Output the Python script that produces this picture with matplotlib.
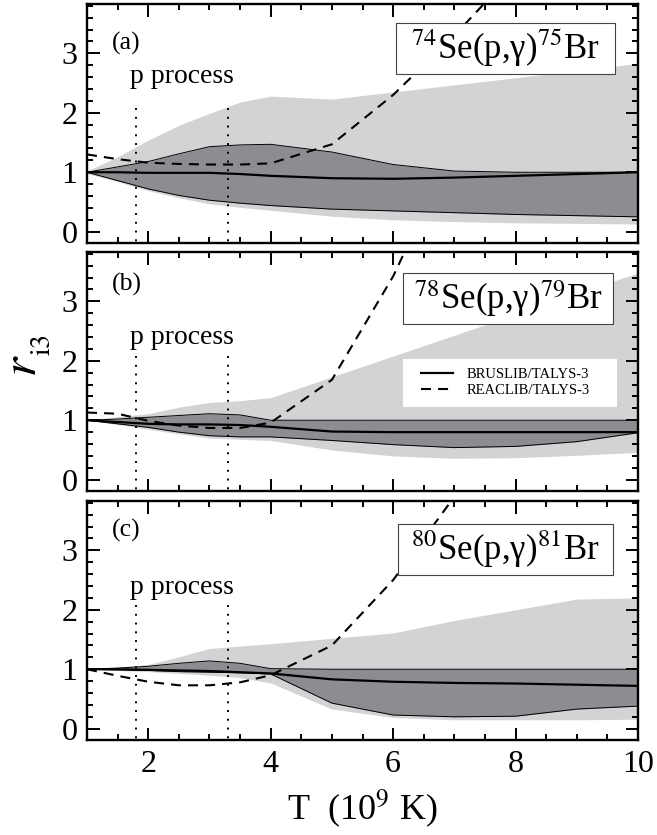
import matplotlib
matplotlib.use("Agg")
import matplotlib.pyplot as plt
from matplotlib.patches import Rectangle
from matplotlib.ticker import MultipleLocator

plt.rcParams['font.family'] = ['Liberation Serif', 'DejaVu Serif']
plt.rcParams['mathtext.fontset'] = 'stix'

# Temperature grid (10^9 K)
T = [1, 1.5, 2, 2.5, 3, 3.5, 4, 5, 6, 7, 8, 9, 10]

# ---- (a) 74Se(p,g)75Br ----
a_wide_hi = [1.02, 1.26, 1.54, 1.79, 1.99, 2.18, 2.28, 2.23, 2.35, 2.47, 2.59, 2.71, 2.83]
a_wide_lo = [0.98, 0.84, 0.69, 0.57, 0.47, 0.41, 0.36, 0.26, 0.20, 0.17, 0.15, 0.14, 0.13]
a_core_hi = [1.00, 1.09, 1.18, 1.31, 1.43, 1.46, 1.47, 1.34, 1.13, 1.02, 1.00, 1.00, 1.00]
a_core_lo = [1.00, 0.86, 0.72, 0.61, 0.53, 0.48, 0.44, 0.38, 0.35, 0.32, 0.29, 0.27, 0.25]
a_bruslib = [1.00, 1.00, 0.99, 0.99, 0.99, 0.97, 0.94, 0.90, 0.89, 0.91, 0.94, 0.97, 1.00]
a_T_reaclib = [1, 1.5, 2, 2.5, 3, 3.5, 4, 5, 6, 7, 8]
a_reaclib = [1.30, 1.22, 1.16, 1.14, 1.13, 1.13, 1.15, 1.47, 2.30, 3.30, 4.40]

# ---- (b) 78Se(p,g)79Br ----
b_wide_hi = [1.00, 1.06, 1.11, 1.22, 1.30, 1.33, 1.38, 1.73, 2.08, 2.43, 2.78, 3.13, 3.48]
b_wide_lo = [1.00, 0.93, 0.85, 0.77, 0.70, 0.68, 0.66, 0.50, 0.40, 0.36, 0.37, 0.41, 0.46]
b_core_hi = [1.00, 1.02, 1.05, 1.08, 1.11, 1.09, 1.00, 1.00, 1.00, 1.00, 1.00, 1.00, 1.00]
b_core_lo = [1.00, 0.94, 0.88, 0.80, 0.74, 0.72, 0.72, 0.66, 0.59, 0.54, 0.56, 0.64, 0.79]
b_bruslib = [1.00, 0.97, 0.94, 0.93, 0.93, 0.92, 0.89, 0.81, 0.80, 0.80, 0.80, 0.80, 0.80]
b_T_reaclib = [1, 1.5, 2, 2.5, 3, 3.5, 4, 5, 6, 7]
b_reaclib = [1.13, 1.11, 0.99, 0.91, 0.87, 0.87, 0.96, 1.68, 3.42, 5.60]

# ---- (c) 80Se(p,g)81Br ----
c_wide_hi = [1.00, 1.03, 1.08, 1.21, 1.35, 1.39, 1.43, 1.52, 1.61, 1.82, 2.00, 2.18, 2.20]
c_wide_lo = [1.00, 0.98, 0.96, 0.93, 0.90, 0.86, 0.77, 0.33, 0.19, 0.15, 0.15, 0.15, 0.16]
c_core_hi = [1.00, 1.02, 1.05, 1.10, 1.14, 1.10, 1.01, 1.00, 1.00, 1.00, 1.00, 1.00, 1.00]
c_core_lo = [1.00, 0.99, 0.98, 0.96, 0.95, 0.94, 0.92, 0.43, 0.23, 0.20, 0.21, 0.33, 0.38]
c_bruslib = [1.00, 1.00, 0.99, 0.98, 0.97, 0.95, 0.93, 0.83, 0.79, 0.77, 0.76, 0.74, 0.72]
c_T_reaclib = [1, 1.5, 2, 2.5, 3, 3.5, 4, 5, 6, 7]
c_reaclib = [1.00, 0.89, 0.79, 0.73, 0.73, 0.78, 0.90, 1.40, 2.50, 3.90]

# p-process temperature window
p_window = [1.8, 3.3]

panel_tags = ['(a)', '(b)', '(c)']
reactions = [r'$^{74}$Se(p,γ)$^{75}$Br',
             r'$^{78}$Se(p,γ)$^{79}$Br',
             r'$^{80}$Se(p,γ)$^{81}$Br']

panels = [
    (a_wide_hi, a_wide_lo, a_core_hi, a_core_lo, a_bruslib, a_T_reaclib, a_reaclib),
    (b_wide_hi, b_wide_lo, b_core_hi, b_core_lo, b_bruslib, b_T_reaclib, b_reaclib),
    (c_wide_hi, c_wide_lo, c_core_hi, c_core_lo, c_bruslib, c_T_reaclib, c_reaclib),
]

W, H = 657, 835
fig = plt.figure(figsize=(W / 100, H / 100), dpi=100)

# axes frames in pixels: (top, bottom)
frames = [(4, 243), (252, 491), (501, 740)]
left_px, right_px = 87, 638

tag_y = [3.17, 3.29, 3.33]
ptext_y = [2.61, 2.40, 2.37]
box_rects = [(0.561, 0.707, 0.397, 0.213),
             (0.573, 0.699, 0.382, 0.212),
             (0.564, 0.690, 0.390, 0.213)]

LIGHT = '#d2d3d5'
DARK = '#8c8d90'

for i, (top, bot) in enumerate(frames):
    ax = fig.add_axes([left_px / W, 1 - bot / H, (right_px - left_px) / W, (bot - top) / H])
    wide_hi, wide_lo, core_hi, core_lo, brus, T_reac, reac = panels[i]

    ax.fill_between(T, wide_lo, wide_hi, color=LIGHT, lw=0, zorder=1)
    ax.fill_between(T, core_lo, core_hi, color=DARK, lw=0, zorder=2)
    ax.plot(T, core_hi, color='black', lw=0.7, zorder=2.5)
    ax.plot(T, core_lo, color='black', lw=0.7, zorder=2.5)
    l1, = ax.plot(T, brus, color='black', lw=1.6, zorder=3, label='BRUSLIB/TALYS-3')
    l2, = ax.plot(T_reac, reac, color='black', lw=1.5, ls=(0, (4.8, 3.4)), zorder=4,
                  label='REACLIB/TALYS-3')

    for xv in p_window:
        ax.plot([xv, xv], [-0.3, 2.13], color='black', lw=1.4, ls=(0, (1, 3.5)), zorder=4.5)
    ax.text(sum(p_window) / 2, ptext_y[i], 'p process', ha='center', va='center',
            fontsize=20, zorder=6)

    ax.text(1.4, tag_y[i], panel_tags[i], ha='left', va='center', fontsize=18.5, zorder=6)

    bx, by, bw, bh = box_rects[i]
    ax.add_patch(Rectangle((bx, by), bw, bh, transform=ax.transAxes, facecolor='white',
                           edgecolor='#444444', lw=0.8, zorder=7))
    ax.text(bx + bw / 2, by + bh / 2, reactions[i], transform=ax.transAxes,
            ha='center', va='center', fontsize=25, zorder=8)

    ax.set_xlim(1, 10)
    ax.set_ylim(-0.19, 3.83)
    ax.xaxis.set_major_locator(MultipleLocator(2))
    ax.xaxis.set_minor_locator(MultipleLocator(0.5))
    ax.yaxis.set_major_locator(MultipleLocator(1))
    ax.yaxis.set_minor_locator(MultipleLocator(0.2))
    ax.tick_params(which='both', direction='in', top=True, right=True, width=1.4,
                   labelsize=23, pad=7)
    ax.tick_params(which='major', length=9)
    ax.tick_params(which='minor', length=4.5)
    for s in ax.spines.values():
        s.set_linewidth(1.7)
    if i < 2:
        ax.tick_params(labelbottom=False)
    else:
        ax.set_xlabel('T  (10$^{9}$ K)', fontsize=26, labelpad=6)
    if i == 1:
        # white panel behind the legend entries
        ax.add_patch(Rectangle((0.573, 0.351), 0.389, 0.201, transform=ax.transAxes,
                               facecolor='white', edgecolor='none', zorder=8))
        leg = ax.legend(handles=[l1, l2], loc='upper left', bbox_to_anchor=(0.606, 0.515),
                        fontsize=10.5, frameon=False, handlelength=2.2,
                        handletextpad=0.95, borderpad=0, labelspacing=0.2,
                        borderaxespad=0)
        leg.set_zorder(9)

# y-axis label r_i3, drawn as italic r with an upright subscript
fig.text(24 / W, 1 - 366 / H, r'$r$', rotation=90, ha='center', va='center',
         fontsize=36)
fig.text(43 / W, 1 - 345 / H, r'$\mathrm{i3}$', rotation=90, ha='center', va='center',
         fontsize=20)

fig.savefig('out.png', dpi=100)
